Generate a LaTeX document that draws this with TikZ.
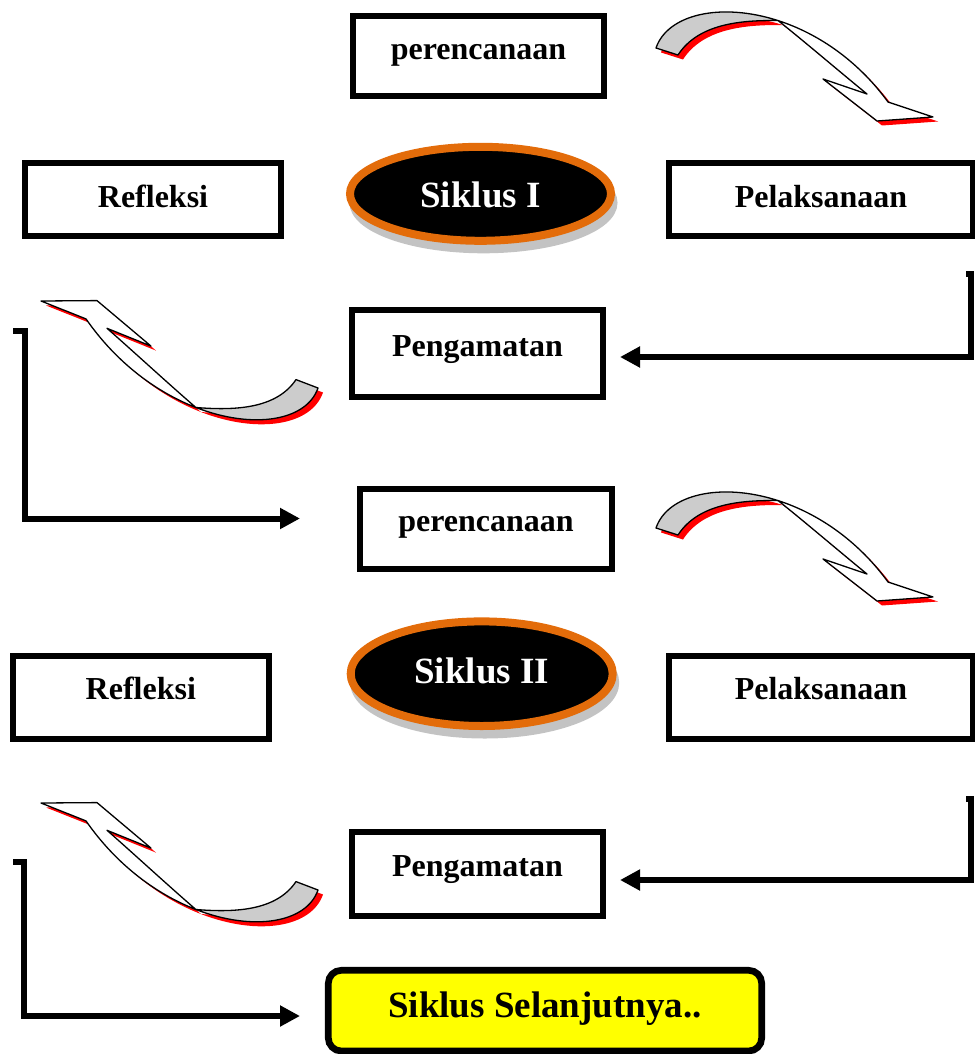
\documentclass[tikz,border=0pt]{standalone}
\usepackage{fontspec}
\setmainfont{Liberation Serif}
\usetikzlibrary{arrows.meta,calc,shapes.geometric,shadows}

\definecolor{ringorange}{RGB}{227,108,10}
\definecolor{ribbongray}{RGB}{204,204,204}
\definecolor{shadowred}{RGB}{255,0,0}
\definecolor{rimgray}{RGB}{195,195,195}
\definecolor{nextyellow}{RGB}{255,255,0}

\tikzset{
  stepbox/.style={rectangle, draw=black, line width=6pt, fill=white, inner sep=0pt,
    anchor=base, font=\bfseries\fontsize{32}{38}\selectfont},
  nextbox/.style={stepbox, fill=nextyellow, line width=6.7pt, rounded corners=13pt,
    font=\bfseries\fontsize{37}{44}\selectfont},
  cycleoval/.style={ellipse, draw=ringorange, line width=8pt, fill=black, text=white,
    inner sep=0pt, font=\bfseries\fontsize{37}{44}\selectfont,
    general shadow={shadow xshift=3pt, shadow yshift=-9pt, fill=rimgray, draw=rimgray, line width=7pt}},
  flowline/.style={line width=6pt, -{Triangle[length=20pt,width=20pt]}},
  ribbonedge/.style={draw=black, line width=1.3pt, line join=round},
  % curved ribbon arrow bending over the top, pointing down-right
  ribbonR/.pic={
    \fill[shadowred, shift={(5,4.5)}]
      (656,48) .. controls (667.4,14.4) and (720.6,2.0) .. (778.1,20.6)
      .. controls (740,20) and (698,24) .. (678,55) -- cycle
      (778.1,20.6) .. controls (816.5,33.0) and (856.8,59.2) .. (888,102)
      -- (933,117) -- (877,121) -- (823,79) -- (867,94)
      .. controls (840,72) and (805,42) .. (778.1,20.6) -- cycle;
    \filldraw[ribbonedge, fill=white]
      (778.1,20.6) .. controls (816.5,33.0) and (856.8,59.2) .. (888,102)
      -- (933,117) -- (877,121) -- (823,79) -- (867,94)
      .. controls (840,72) and (805,42) .. (778.1,20.6) -- cycle;
    \filldraw[ribbonedge, fill=ribbongray]
      (656,48) .. controls (667.4,14.4) and (720.6,2.0) .. (778.1,20.6)
      .. controls (740,20) and (698,24) .. (678,55) -- cycle;
  },
  % curved ribbon arrow bending underneath, pointing up-left
  ribbonL/.pic={
    \fill[shadowred, shift={(5,4.5)}]
      (318,388) .. controls (306.6,420.9) and (253.4,429.8) .. (195.9,407.5)
      .. controls (234,410.5) and (276,409.3) .. (296,379.6) -- cycle
      (195.9,407.5) .. controls (157.5,392.6) and (117.2,363.8) .. (86,318.9)
      -- (41,301) -- (97,300.6) -- (151,346.1) -- (107,328.3)
      .. controls (134,352) and (169,384.3) .. (195.9,407.5) -- cycle;
    \filldraw[ribbonedge, fill=white]
      (195.9,407.5) .. controls (157.5,392.6) and (117.2,363.8) .. (86,318.9)
      -- (41,301) -- (97,300.6) -- (151,346.1) -- (107,328.3)
      .. controls (134,352) and (169,384.3) .. (195.9,407.5) -- cycle;
    \filldraw[ribbonedge, fill=ribbongray]
      (318,388) .. controls (306.6,420.9) and (253.4,429.8) .. (195.9,407.5)
      .. controls (234,410.5) and (276,409.3) .. (296,379.6) -- cycle;
  }
}

\begin{document}
\begin{tikzpicture}[x=1pt,y=-1pt]
  \useasboundingbox (0,0) rectangle (974,1054);

  % ---- first cycle ----
  \node[stepbox, minimum width=251pt, text height=44pt, text depth=36pt] (plan1) at (478.5,60) {perencanaan};
  \node[stepbox, minimum width=256pt, text height=44.5pt, text depth=28.5pt] (refl1) at (153,207.5) {Refleksi};
  \node[stepbox, minimum width=304pt, text height=44.5pt, text depth=28.5pt] (act1) at (821,207.5) {Pelaksanaan};
  \node[stepbox, minimum width=251pt, text height=46pt, text depth=41pt] (obs1) at (477.5,356) {Pengamatan};
  \node[cycleoval, minimum width=261pt, minimum height=94pt, text height=28pt, text depth=0pt] (cyc1) at (480.5,193.8) {Siklus I};

  \pic at (0,0) {ribbonR};
  \pic at (0,0) {ribbonL};

  \coordinate (r1hook) at (966,274);
  \coordinate (r1tip) at (620,357);
  \draw[flowline] (r1hook) -- ++(5,0) |- (r1tip);

  \coordinate (l1hook) at (13,331);
  \coordinate (l1tip) at (300,518.5);
  \draw[flowline] (l1hook) -- ++(12,0) |- (l1tip);

  % ---- second cycle ----
  \node[stepbox, minimum width=252pt, text height=42pt, text depth=38pt] (plan2) at (486,531) {perencanaan};
  \node[stepbox, minimum width=255.7pt, text height=43.6pt, text depth=39.4pt] (refl2) at (140.8,699.3) {Refleksi};
  \node[stepbox, minimum width=304pt, text height=43.6pt, text depth=39.4pt] (act2) at (821,699.3) {Pelaksanaan};
  \node[stepbox, minimum width=251pt, text height=44pt, text depth=40pt] (obs2) at (477.5,876) {Pengamatan};
  \node[cycleoval, minimum width=262pt, minimum height=104.6pt, text height=25pt, text depth=5.8pt] (cyc2) at (481.7,673.7) {Siklus II};

  \pic at (0,480) {ribbonR};
  \pic at (0,502) {ribbonL};

  \coordinate (r2hook) at (966,799);
  \coordinate (r2tip) at (620,880);
  \draw[flowline] (r2hook) -- ++(5,0) |- (r2tip);

  \coordinate (l2hook) at (13,862);
  \coordinate (l2tip) at (300,1016);
  \draw[flowline] (l2hook) -- ++(11,0) |- (l2tip);

  % ---- next cycle ----
  \node[nextbox, minimum width=433.4pt, text height=46.7pt, text depth=34pt] (next) at (545,1017) {Siklus Selanjutnya..};
\end{tikzpicture}
\end{document}
